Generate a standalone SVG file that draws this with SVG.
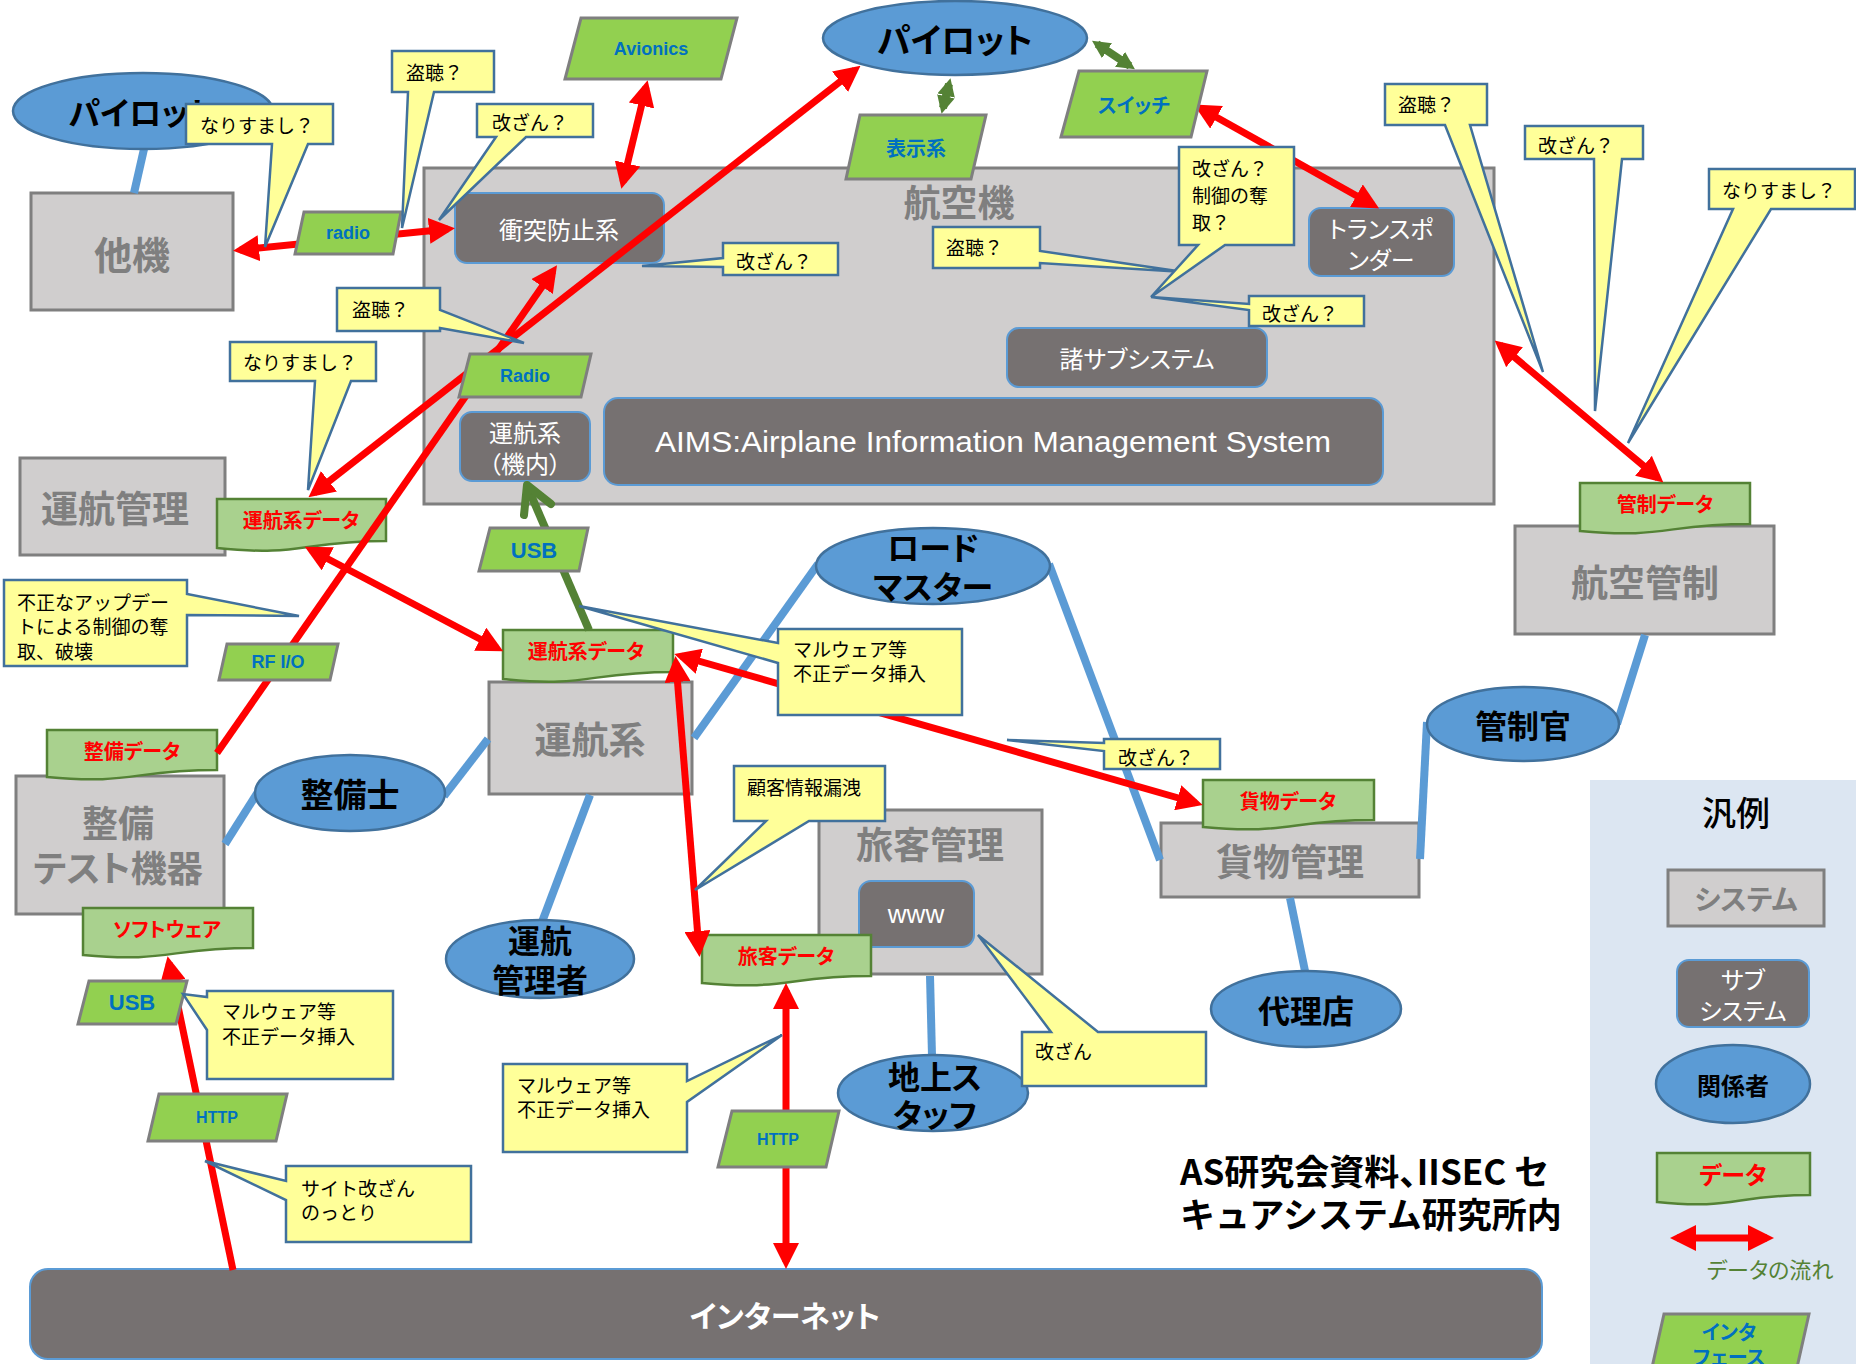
<svg xmlns="http://www.w3.org/2000/svg" width="1856" height="1364" viewBox="0 0 1856 1364">
<defs>
<marker id="ra" viewBox="0 0 26 26" refX="19" refY="13" markerWidth="26" markerHeight="26" markerUnits="userSpaceOnUse" orient="auto-start-reverse"><path d="M0,0 L26,13 L0,26 Z" fill="#ff0000"/></marker>
<marker id="ga" viewBox="0 0 18 18" refX="12" refY="9" markerWidth="18" markerHeight="18" markerUnits="userSpaceOnUse" orient="auto-start-reverse"><path d="M0,0 L18,9 L0,18 Z" fill="#548235"/></marker>
</defs>
<style>
text { font-family: "Noto Sans CJK JP", "Noto Sans", sans-serif; font-feature-settings: "palt"; }
.sys { fill:#d0cece; stroke:#7f7f7f; stroke-width:3; }
.sub { fill:#767171; stroke:#5b9bd5; stroke-width:2; }
.act { fill:#5b9bd5; stroke:#41719c; stroke-width:2.5; }
.dat { fill:#a9d18e; stroke:#548235; stroke-width:2.5; }
.itf { fill:#92d050; stroke:#7f7f7f; stroke-width:3; }
.cal { fill:#ffff99; stroke:#41719c; stroke-width:2.5; stroke-linejoin:miter; }
.bl { stroke:#5b9bd5; stroke-width:8; fill:none; }
.rd { stroke:#ff0000; stroke-width:7; fill:none; }
.gr { stroke:#548235; stroke-width:8; fill:none; }
.sysT { font-size:37px; font-weight:700; fill:#7f7f7f; text-anchor:middle; dominant-baseline:central; }
.subT { font-size:24px; fill:#ffffff; text-anchor:middle; dominant-baseline:central; }
.actT { font-size:32px; font-weight:700; fill:#000000; text-anchor:middle; dominant-baseline:central; }
.datT { font-size:20px; font-weight:700; fill:#ff0000; text-anchor:middle; dominant-baseline:central; }
.itfT { font-family:"Liberation Sans", Arial, sans-serif; font-size:18px; font-weight:700; fill:#0070c0; text-anchor:middle; dominant-baseline:central; }
.itfJ { font-size:20px; font-weight:700; fill:#0070c0; text-anchor:middle; dominant-baseline:central; }
.cT { font-size:19px; fill:#000000; dominant-baseline:central; font-feature-settings:normal; }
</style>
<rect width="1856" height="1364" fill="#ffffff"/>

<!-- Systems -->
<g id="airplane"><rect class="sys" x="424" y="168" width="1070" height="336"/><text class="sysT" x="959" y="201">航空機</text></g>
<g id="other-plane"><rect class="sys" x="31" y="193" width="202" height="117"/><text class="sysT" x="132" y="252" style="font-size:38px">他機</text></g>
<g id="ops-mgmt"><rect class="sys" x="20" y="458" width="205" height="97"/><text class="sysT" x="115" y="507">運航管理</text></g>
<g id="atc"><rect class="sys" x="1515" y="526" width="259" height="108"/><text class="sysT" x="1645" y="581">航空管制</text></g>
<g id="ops-sys"><rect class="sys" x="489" y="682" width="203" height="112"/><text class="sysT" x="590" y="738">運航系</text></g>
<g id="pax-mgmt"><rect class="sys" x="819" y="810" width="223" height="164"/><text class="sysT" x="930" y="843">旅客管理</text></g>
<g id="cargo-mgmt"><rect class="sys" x="1161" y="823" width="258" height="74"/><text class="sysT" x="1290" y="860">貨物管理</text></g>
<g id="maint-test"><rect class="sys" x="16" y="776" width="208" height="138"/><text class="sysT" x="118" y="821" style="font-size:36px">整備</text><text class="sysT" x="118" y="866" style="font-size:36px">テスト機器</text></g>

<!-- Subsystems -->
<g id="tcas"><rect class="sub" x="455" y="193" width="209" height="70" rx="12"/><text class="subT" x="559" y="228">衝突防止系</text></g>
<g id="transponder"><rect class="sub" x="1309" y="208" width="145" height="68" rx="12"/><text class="subT" x="1381" y="227">トランスポ</text><text class="subT" x="1381" y="258">ンダー</text></g>
<g id="subsystems"><rect class="sub" x="1007" y="328" width="260" height="59" rx="12"/><text class="subT" x="1137" y="357">諸サブシステム</text></g>
<g id="aims"><rect class="sub" x="604" y="398" width="779" height="87" rx="14"/><text x="993" y="442" style="font-family:'Liberation Sans',Arial,sans-serif;font-size:29px;fill:#fff;text-anchor:middle;dominant-baseline:central;font-feature-settings:normal" textLength="676" lengthAdjust="spacingAndGlyphs">AIMS:Airplane Information Management System</text></g>
<g id="ops-onboard"><rect class="sub" x="460" y="412" width="130" height="69" rx="12"/><text class="subT" x="525" y="431">運航系</text><text class="subT" x="525" y="462">（機内）</text></g>
<g id="www"><rect class="sub" x="859" y="881" width="115" height="66" rx="12"/><text class="subT" x="916" y="914" style="font-family:'Liberation Sans',Arial,sans-serif;font-size:26px">www</text></g>
<g id="internet"><rect class="sub" x="30" y="1269" width="1512" height="90" rx="18"/><text class="subT" x="785" y="1314" style="font-size:30px;font-weight:700">インターネット</text></g>

<!-- Data -->
<g id="data-ops-left"><path class="dat" d="M217,499 H386 V541 C301,541 301,557 217,548 Z"/><text class="datT" x="301" y="519">運航系データ</text></g>
<g id="data-ops-center"><path class="dat" d="M503,630 H673 V672 C588,672 588,688 503,679 Z"/><text class="datT" x="586" y="650">運航系データ</text></g>
<g id="data-maint"><path class="dat" d="M47,730 H217 V770 C132,770 132,785 47,777 Z"/><text class="datT" x="132" y="750">整備データ</text></g>
<g id="data-software"><path class="dat" d="M83,908 H253 V948 C168,948 168,963 83,955 Z"/><text class="datT" x="167" y="928">ソフトウェア</text></g>
<g id="data-pax"><path class="dat" d="M702,935 H871 V976 C786,976 786,991 702,983 Z"/><text class="datT" x="786" y="955">旅客データ</text></g>
<g id="data-cargo"><path class="dat" d="M1203,780 H1374 V820 C1288,820 1288,835 1203,827 Z"/><text class="datT" x="1288" y="800">貨物データ</text></g>
<g id="data-atc"><path class="dat" d="M1580,483 H1750 V524 C1665,524 1665,539 1580,531 Z"/><text class="datT" x="1665" y="503">管制データ</text></g>

<!-- Connectors -->
<g id="connectors">
<line class="bl" x1="144" y1="149" x2="134" y2="193"/>
<line class="bl" x1="225" y1="844" x2="258" y2="792"/>
<line class="bl" x1="444" y1="796" x2="488" y2="739"/>
<line class="bl" x1="590" y1="795" x2="542" y2="922"/>
<line class="bl" x1="694" y1="738" x2="818" y2="564"/>
<line class="bl" x1="1049" y1="564" x2="1160" y2="860"/>
<line class="bl" x1="930" y1="976" x2="932" y2="1056"/>
<line class="bl" x1="1290" y1="898" x2="1305" y2="971"/>
<line class="bl" x1="1420" y1="859" x2="1427" y2="722"/>
<line class="bl" x1="1617" y1="724" x2="1645" y2="635"/>

<line class="rd" x1="240" y1="250" x2="448" y2="229" marker-start="url(#ra)" marker-end="url(#ra)"/>
<line class="rd" x1="646" y1="87" x2="623" y2="182" marker-start="url(#ra)" marker-end="url(#ra)"/>
<line class="rd" x1="217" y1="753" x2="553" y2="271" marker-end="url(#ra)"/>
<line class="rd" x1="314" y1="493" x2="855" y2="70" marker-start="url(#ra)" marker-end="url(#ra)"/>
<line class="rd" x1="311" y1="550" x2="497" y2="648" marker-start="url(#ra)" marker-end="url(#ra)"/>
<line class="rd" x1="681" y1="656" x2="1196" y2="803" marker-start="url(#ra)" marker-end="url(#ra)"/>
<line class="rd" x1="676" y1="663" x2="699" y2="950" marker-start="url(#ra)" marker-end="url(#ra)"/>
<line class="rd" x1="786" y1="990" x2="786" y2="1262" marker-start="url(#ra)" marker-end="url(#ra)"/>
<line class="rd" x1="233" y1="1270" x2="169" y2="963" marker-end="url(#ra)"/>
<line class="rd" x1="1200" y1="108" x2="1373" y2="205" marker-start="url(#ra)" marker-end="url(#ra)"/>
<line class="rd" x1="1500" y1="345" x2="1658" y2="478" marker-start="url(#ra)" marker-end="url(#ra)"/>

<line class="gr" x1="589" y1="630" x2="528" y2="488"/>
<polyline class="gr" points="524,515 527,485 551,504" stroke-linecap="round" stroke-linejoin="round"/>
<line class="gr" x1="943" y1="108" x2="949" y2="84" marker-start="url(#ga)" marker-end="url(#ga)"/>
<line class="gr" x1="1097" y1="44" x2="1130" y2="66" marker-start="url(#ga)" marker-end="url(#ga)"/>
</g>

<!-- Actors -->
<g id="pilot-left"><ellipse class="act" cx="143" cy="111" rx="130" ry="38"/><text class="actT" x="142" y="111">パイロット</text></g>
<g id="pilot-top"><ellipse class="act" cx="955" cy="38" rx="132" ry="37"/><text class="actT" x="955" y="38" style="font-size:34px">パイロット</text></g>
<g id="loadmaster"><ellipse class="act" cx="933" cy="566" rx="117" ry="38"/><text class="actT" x="933" y="546">ロード</text><text class="actT" x="933" y="585">マスター</text></g>
<g id="controller"><ellipse class="act" cx="1523" cy="724" rx="96" ry="37"/><text class="actT" x="1523" y="724">管制官</text></g>
<g id="mechanic"><ellipse class="act" cx="350" cy="793" rx="95" ry="38"/><text class="actT" x="350" y="793" style="font-size:33px">整備士</text></g>
<g id="ops-manager"><ellipse class="act" cx="540" cy="959" rx="94" ry="39"/><text class="actT" x="540" y="939">運航</text><text class="actT" x="540" y="978">管理者</text></g>
<g id="ground-staff"><ellipse class="act" cx="933" cy="1093" rx="95" ry="38"/><text class="actT" x="935" y="1075">地上ス</text><text class="actT" x="935" y="1113">タッフ</text></g>
<g id="agent"><ellipse class="act" cx="1306" cy="1009" rx="95" ry="38"/><text class="actT" x="1306" y="1009">代理店</text></g>

<!-- Interfaces -->
<g id="if-avionics"><polygon class="itf" points="581,18 737,18 721,79 565,79"/><text class="itfT" x="651" y="49">Avionics</text></g>
<g id="if-display"><polygon class="itf" points="860,115 986,115 971,179 846,179"/><text class="itfJ" x="916" y="147">表示系</text></g>
<g id="if-switch"><polygon class="itf" points="1079,71 1207,71 1191,137 1061,137"/><text class="itfJ" x="1134" y="104">スイッチ</text></g>
<g id="if-radio"><polygon class="itf" points="304,212 401,212 393,254 295,254"/><text class="itfT" x="348" y="233">radio</text></g>
<g id="if-Radio"><polygon class="itf" points="470,354 591,354 581,397 459,397"/><text class="itfT" x="525" y="376">Radio</text></g>
<g id="if-usb-mid"><polygon class="itf" points="490,528 588,528 579,571 479,571"/><text class="itfT" x="534" y="550" style="font-size:22px">USB</text></g>
<g id="if-rfio"><polygon class="itf" points="227,644 338,644 330,680 219,680"/><text class="itfT" x="278" y="662">RF I/O</text></g>
<g id="if-usb-bl"><polygon class="itf" points="89,981 187,981 176,1024 78,1024"/><text class="itfT" x="132" y="1002" style="font-size:22px">USB</text></g>
<g id="if-http-bl"><polygon class="itf" points="159,1094 287,1094 276,1141 148,1141"/><text class="itfT" x="217" y="1117" style="font-size:16px">HTTP</text></g>
<g id="if-http-c"><polygon class="itf" points="732,1111 839,1111 826,1167 718,1167"/><text class="itfT" x="778" y="1139" style="font-size:16px">HTTP</text></g>

<!-- Callouts -->
<g id="c-spoof-tl"><path class="cal" d="M186,104 H333 V144 H308 L265,247 L272,144 H186 Z"/><text class="cT" x="200" y="124">なりすまし？</text></g>
<g id="c-eaves-top"><path class="cal" d="M392,51 H494 V92 H434 L402,228 L408,92 H392 Z"/><text class="cT" x="406" y="71">盗聴？</text></g>
<g id="c-tamper-top"><path class="cal" d="M477,104 H593 V137 H526 L439,220 L496,137 H477 Z"/><text class="cT" x="492" y="121">改ざん？</text></g>
<g id="c-tamper-tcas"><path class="cal" d="M723,243 H838 V275 H723 V267 L642,266 L723,258 Z"/><text class="cT" x="736" y="260">改ざん？</text></g>
<g id="c-eaves-radio"><path class="cal" d="M337,288 H440 V310 L524,343 L440,328 V331 H337 Z"/><text class="cT" x="352" y="308">盗聴？</text></g>
<g id="c-eaves-center"><path class="cal" d="M933,227 H1040 V251 L1184,272 L1040,263 V268 H933 Z"/><text class="cT" x="946" y="246">盗聴？</text></g>
<g id="c-takeover"><path class="cal" d="M1179,147 H1294 V245 H1225 L1151,297 L1198,245 H1179 Z"/><text class="cT" x="1192" y="167">改ざん？</text><text class="cT" x="1192" y="194">制御の奪</text><text class="cT" x="1192" y="221">取？</text></g>
<g id="c-tamper-sub"><path class="cal" d="M1249,296 H1364 V326 H1249 V310 L1151,297 L1249,304 Z"/><text class="cT" x="1262" y="312">改ざん？</text></g>
<g id="c-eaves-right"><path class="cal" d="M1385,84 H1487 V125 H1470 L1543,372 L1445,125 H1385 Z"/><text class="cT" x="1398" y="103">盗聴？</text></g>
<g id="c-tamper-right"><path class="cal" d="M1525,126 H1643 V159 H1622 L1595,411 L1594,159 H1525 Z"/><text class="cT" x="1538" y="144">改ざん？</text></g>
<g id="c-spoof-right"><path class="cal" d="M1709,169 H1855 V209 H1771 L1628,443 L1733,209 H1709 Z"/><text class="cT" x="1722" y="189">なりすまし？</text></g>
<g id="c-spoof-left"><path class="cal" d="M230,342 H376 V381 H351 L308,490 L315,381 H230 Z"/><text class="cT" x="243" y="361">なりすまし？</text></g>
<g id="c-update"><path class="cal" d="M4,580 H187 V594 L299,616 L187,615 V666 H4 Z"/><text class="cT" x="17" y="601">不正なアップデー</text><text class="cT" x="17" y="625">トによる制御の奪</text><text class="cT" x="17" y="650">取、破壊</text></g>
<g id="c-malware-center"><path class="cal" d="M778,629 H962 V715 H778 V663 L579,606 L778,643 Z"/><text class="cT" x="793" y="648">マルウェア等</text><text class="cT" x="793" y="672">不正データ挿入</text></g>
<g id="c-tamper-cargo"><path class="cal" d="M1104,739 H1220 V769 H1104 V751 L1007,740 L1104,743 Z"/><text class="cT" x="1118" y="756">改ざん？</text></g>
<g id="c-leak"><path class="cal" d="M734,766 H885 V821 H809 L695,890 L766,821 H734 Z"/><text class="cT" x="747" y="786">顧客情報漏洩</text></g>
<g id="c-tamper-www"><path class="cal" d="M1022,1032 H1051 L978,935 L1098,1032 H1206 V1086 H1022 Z"/><text class="cT" x="1035" y="1050">改ざん</text></g>
<g id="c-malware-bc"><path class="cal" d="M503,1064 H687 V1081 L782,1035 L687,1102 V1152 H503 Z"/><text class="cT" x="517" y="1084">マルウェア等</text><text class="cT" x="517" y="1108">不正データ挿入</text></g>
<g id="c-malware-bl"><path class="cal" d="M207,991 H393 V1079 H207 V1030 L183,994 L207,997 Z"/><text class="cT" x="222" y="1010">マルウェア等</text><text class="cT" x="222" y="1035">不正データ挿入</text></g>
<g id="c-site"><path class="cal" d="M286,1166 H471 V1242 H286 V1200 L205,1161 L286,1181 Z"/><text class="cT" x="301" y="1187">サイト改ざん</text><text class="cT" x="301" y="1211">のっとり</text></g>

<!-- Source note -->
<g id="source-note"><text x="1180" y="1169" style="font-size:35px;font-weight:700;dominant-baseline:central">AS研究会資料、IISEC セ</text><text x="1180" y="1212" style="font-size:35px;font-weight:700;dominant-baseline:central;font-feature-settings:normal">キュアシステム研究所内</text></g>

<!-- Legend -->
<g id="legend">
<rect x="1590" y="780" width="266" height="584" fill="#dce6f2"/>
<text x="1736" y="811" style="font-size:34px;font-weight:500;text-anchor:middle;dominant-baseline:central">汎例</text>
<rect class="sys" x="1668" y="870" width="156" height="56"/><text class="sysT" x="1746" y="898" style="font-size:28px">システム</text>
<rect class="sub" x="1677" y="960" width="132" height="67" rx="12"/><text class="subT" x="1743" y="978">サブ</text><text class="subT" x="1743" y="1009">システム</text>
<ellipse class="act" cx="1733" cy="1084" rx="77" ry="39"/><text class="actT" x="1733" y="1084" style="font-size:24px">関係者</text>
<path class="dat" d="M1657,1153 H1810 V1195 C1733,1195 1733,1210 1657,1202 Z"/><text class="datT" x="1733" y="1173" style="font-size:24px">データ</text>
<line class="rd" x1="1677" y1="1238" x2="1767" y2="1238" marker-start="url(#ra)" marker-end="url(#ra)"/>
<text x="1770" y="1268" style="font-size:22px;fill:#548235;text-anchor:middle;dominant-baseline:central">データの流れ</text>
<polygon class="itf" points="1664,1314 1809,1314 1796,1372 1651,1372"/><text class="itfJ" x="1729" y="1331">インタ</text><text class="itfJ" x="1729" y="1356">フェース</text>
</g>
</svg>
